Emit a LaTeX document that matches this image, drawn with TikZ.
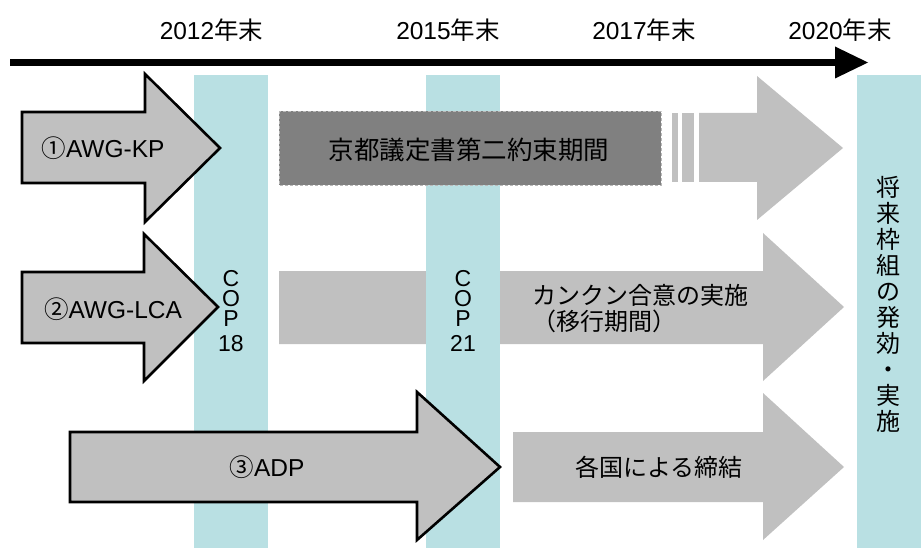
\documentclass[tikz,border=0pt]{standalone}
\usepackage{fontspec}
\setmainfont{Liberation Sans}
\newfontfamily\cjk{Noto Sans CJK JP}
\definecolor{copbar}{RGB}{185,224,227}
\definecolor{arrgray}{RGB}{192,192,192}
\definecolor{darkbar}{RGB}{128,128,128}
\begin{document}
\begin{tikzpicture}[x=1pt,y=-1pt,
  bluebar/.style={fill=copbar},
  outarrow/.style={fill=arrgray, draw=black, line width=2.6pt, line join=miter},
  plainarrow/.style={fill=arrgray},
  lbl/.style={inner sep=0pt, font=\fontsize{24.5}{28}\selectfont},
  jlbl/.style={inner sep=0pt, font=\cjk\fontsize{24}{26}\selectfont},
  coplbl/.style={inner sep=0pt, align=center, anchor=north, font=\fontsize{23}{20}\selectfont}]
\useasboundingbox (0,0) rectangle (921,548);
\fill[white] (0,0) rectangle (921,548);

% row 2 grey arrow (lies under the COP21 bar)
\fill[plainarrow] (279,271) -- (763,271) -- (763,233) -- (844,307) -- (763,381) -- (763,344) -- (279,344) -- cycle;

% COP bars
\fill[bluebar] (194,75) rectangle (268,548);
\fill[bluebar] (426,75) rectangle (500,548);
\fill[bluebar] (857,75) rectangle (921,548);

% timeline axis
\coordinate (axS) at (10,62.5);
\coordinate (axE) at (838,62.5);
\draw[line width=7pt] (axS) -- (axE);
\fill (835,46.5) -- (868,62.5) -- (835,78.5) -- cycle;

% row 1: dark bar + striped grey arrow
\fill[darkbar] (279,111) rectangle (661,185);
\draw[gray!55, densely dashed, line width=0.4pt] (279,111) rectangle (661,185);
\fill[plainarrow] (672,113) rectangle (678,182);
\fill[plainarrow] (682,113) rectangle (694,182);
\fill[plainarrow] (699,113) -- (757,113) -- (757,76) -- (843,148) -- (757,220) -- (757,182) -- (699,182) -- cycle;

% row 3 grey arrow
\fill[plainarrow] (513,432) -- (763,432) -- (763,393) -- (844,467) -- (763,540) -- (763,502) -- (513,502) -- cycle;

% outlined arrows
\draw[outarrow] (22,112) -- (145,112) -- (145,74) -- (220,148) -- (145,222) -- (145,183) -- (22,183) -- cycle;
\draw[outarrow] (22,272) -- (144,272) -- (144,234) -- (218,307) -- (144,381) -- (144,343) -- (22,343) -- cycle;
\draw[outarrow] (70,432) -- (417,432) -- (417,392) -- (500,467) -- (417,540) -- (417,502) -- (70,502) -- cycle;

% year labels
\node[lbl] (y2012) at (211.5,30) {2012{\cjk 年末}};
\node[lbl] (y2015) at (448,30) {2015{\cjk 年末}};
\node[lbl] (y2017) at (644,30) {2017{\cjk 年末}};
\node[lbl] (y2020) at (840,30) {2020{\cjk 年末}};

% arrow labels
\node[lbl] (awgkp) at (103,148) {{\cjk ①}AWG-KP};
\node[lbl] (awglca) at (113,309) {{\cjk ②}AWG-LCA};
\node[lbl] (adp) at (267,467) {{\cjk ③}ADP};
\node[jlbl, font=\cjk\fontsize{25.5}{28}\selectfont] (kyoto) at (469,150) {京都議定書第二約束期間};
\node[jlbl, align=left, anchor=west] (cancun) at (532,309) {カンクン合意の実施\\（移行期間）};
\node[jlbl] (ratify) at (659,467) {各国による締結};

% COP labels
\node[coplbl] (cop18) at (231,270) {C\\O\\P\\[5pt]18};
\node[coplbl] (cop21) at (463,270) {C\\O\\P\\[5pt]21};

% vertical text
\node[jlbl, align=center, font=\cjk\fontsize{24}{26}\selectfont] (future) at (888.5,304) {将\\来\\枠\\組\\の\\発\\効\\・\\実\\施};
\end{tikzpicture}
\end{document}
